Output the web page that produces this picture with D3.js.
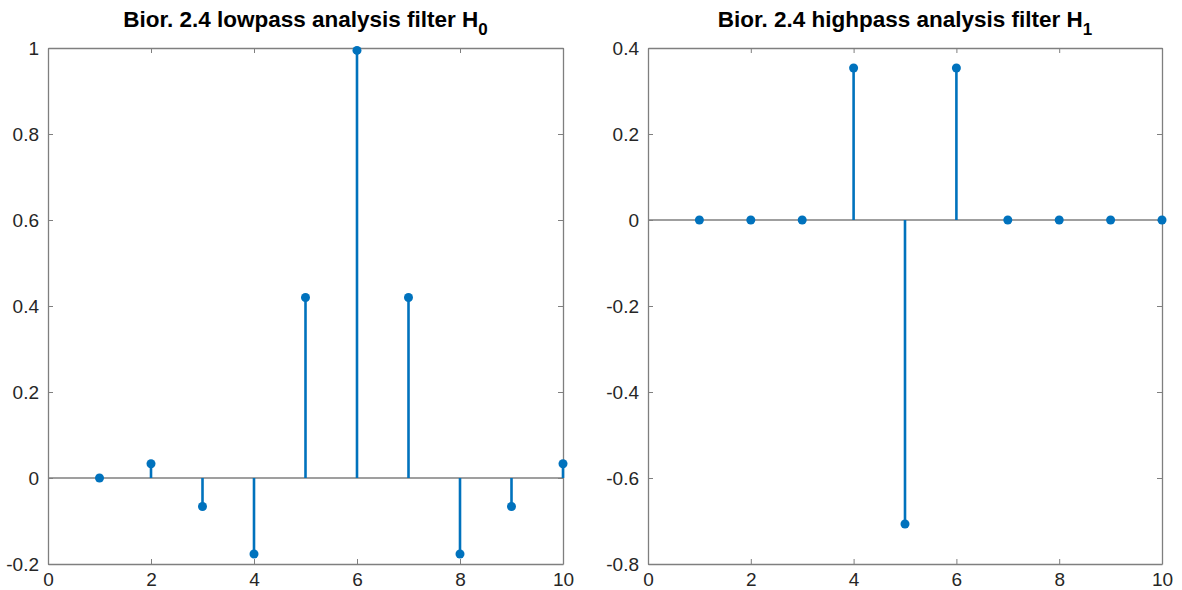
<!DOCTYPE html>
<html>
<head>
<meta charset="utf-8">
<script src="https://cdn.jsdelivr.net/npm/d3@7"></script>
<style>
body { margin: 0; background: #fff; }
text { font-family: "Liberation Sans", Arial, sans-serif; }
</style>
</head>
<body>
<div id="chart"></div>
<script>
var width = 1182
var height = 590

// filter taps, index 1..10
var taps = [1, 2, 3, 4, 5, 6, 7, 8, 9, 10]
var lowpass = [0, 0.0331, -0.0663, -0.1768, 0.4198, 0.9944, 0.4198, -0.1768, -0.0663, 0.0331]
var highpass = [0, 0, 0, 0.3536, -0.7071, 0.3536, 0, 0, 0, 0]

var xTicks = [0, 2, 4, 6, 8, 10]
var lowTicks = [-0.2, 0, 0.2, 0.4, 0.6, 0.8, 1]
var highTicks = [-0.8, -0.6, -0.4, -0.2, 0, 0.2, 0.4]

var blue = '#0072bd'
var grey = '#7f7f7f'

var svg = d3.select('#chart').append('svg')
    .attr('width', width)
    .attr('height', height)

function panel(left, right, values, yDomain, yTicks, titleMain, sub) {
    var top = 48, bottom = 564
    var x = d3.scaleLinear().domain([0, 10]).range([left, right])
    var y = d3.scaleLinear().domain(yDomain).range([bottom, top])
    var g = svg.append('g')

    // plain hyphen for negatives, like the original
    var fmt = function(d) { return String(+d.toFixed(1)) }

    // axes with inward ticks
    var ax = [
        [d3.axisBottom(x).tickValues(xTicks).tickFormat(fmt), 0, bottom, true],
        [d3.axisTop(x).tickValues(xTicks).tickFormat(''), 0, top, false],
        [d3.axisLeft(y).tickValues(yTicks).tickFormat(fmt), left, 0, true],
        [d3.axisRight(y).tickValues(yTicks).tickFormat(''), right, 0, false]
    ]
    ax.forEach(function(a) {
        var gg = g.append('g')
            .attr('transform', 'translate(' + a[1] + ',' + a[2] + ')')
            .call(a[0].tickSizeInner(-5).tickSizeOuter(0).tickPadding(9))
        gg.select('.domain').attr('stroke', grey).attr('stroke-width', 1.3)
        gg.selectAll('.tick line').attr('stroke', grey)
        gg.selectAll('.tick text')
            .attr('fill', '#262626')
            .style('font-size', '19px')
        if (!a[3]) gg.selectAll('.tick text').remove()
    })

    // baseline
    g.append('line')
        .attr('x1', left).attr('x2', right)
        .attr('y1', y(0)).attr('y2', y(0))
        .attr('stroke', grey).attr('stroke-width', 1.3)

    var data = taps.map(function(t, i) { return { t: t, v: values[i] } })

    g.selectAll('.stem').data(data).enter().append('line')
        .attr('class', 'stem')
        .attr('x1', function(d) { return x(d.t) })
        .attr('x2', function(d) { return x(d.t) })
        .attr('y1', y(0))
        .attr('y2', function(d) { return y(d.v) })
        .attr('stroke', blue)
        .attr('stroke-width', 2.6)

    g.selectAll('.dot').data(data).enter().append('circle')
        .attr('class', 'dot')
        .attr('cx', function(d) { return x(d.t) })
        .attr('cy', function(d) { return y(d.v) })
        .attr('r', 4.5)
        .attr('fill', blue)

    var title = g.append('text')
        .attr('x', (left + right) / 2)
        .attr('y', 27)
        .attr('text-anchor', 'middle')
        .attr('fill', '#000')
        .style('font-size', '22.5px')
        .style('font-weight', 'bold')
    title.append('tspan').text(titleMain)
    title.append('tspan').attr('dy', 8).style('font-size', '17px').text(sub)
}

panel(48, 563, lowpass, [-0.2, 1], lowTicks, 'Bior. 2.4 lowpass analysis filter H', '0')
panel(648, 1162, highpass, [-0.8, 0.4], highTicks, 'Bior. 2.4 highpass analysis filter H', '1')
</script>
</body>
</html>
